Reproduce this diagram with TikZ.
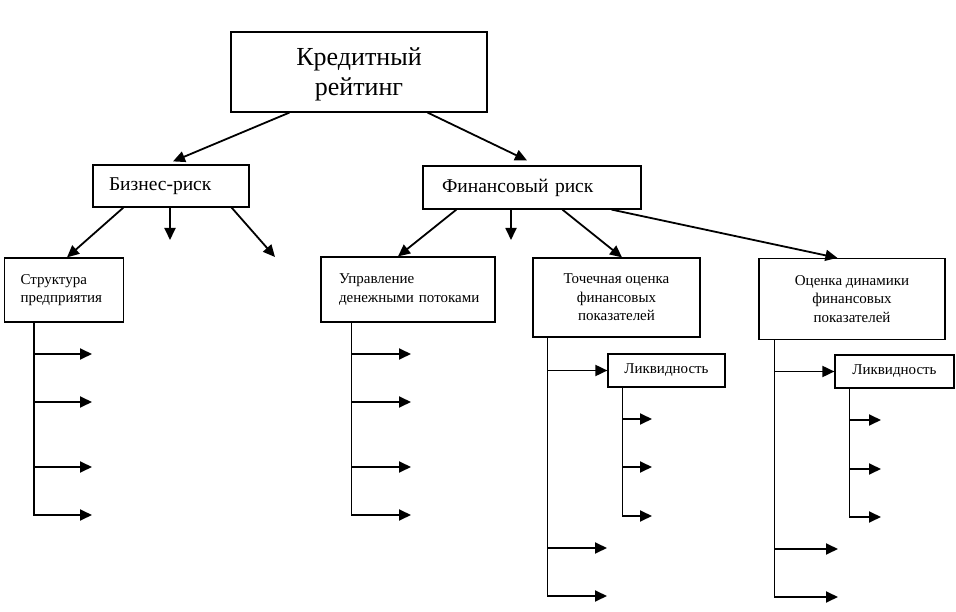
\documentclass[tikz,border=0pt]{standalone}
\usepackage{fontspec}
\setmainfont{Liberation Serif}
\usetikzlibrary{arrows.meta,calc}
\begin{document}
\begin{tikzpicture}[x=1pt,y=-1pt,
  box/.style={draw, line width=1.2pt, inner sep=0pt, align=center},
  small/.style={font=\fontsize{15}{18.5}\selectfont},
  mid/.style={font=\fontsize{19.5}{22}\selectfont},
  arr/.style={line width=1.8pt, -{Triangle[length=12pt,width=11pt]}},
  ln/.style={line width=1.8pt}]
\useasboundingbox (0,0) rectangle (956,612);

% boxes
\node[box, minimum width=256pt, minimum height=80pt, font=\fontsize{26}{30}\selectfont, text depth=0pt] (top) at (359,72) {Кредитный\\рейтинг};
\node[box, mid, minimum width=156pt, minimum height=42pt, text width=124pt, inner xsep=16pt, align=left] (biz) at (171,186) {Бизнес-риск};
\node[box, mid, minimum width=218pt, minimum height=43pt, text width=180pt, inner xsep=19pt, align=left] (fin) at (532,187.5) {Финансовый~риск};
\node[box, small, minimum width=119pt, minimum height=64pt, text width=87pt, inner xsep=16pt, align=left] (str) at (64,290) {Структура\\предприятия};
\node[box, small, minimum width=174pt, minimum height=65pt, text width=138pt, inner xsep=18pt, align=left] (upr) at (408,289.5) {Управление\\денежными~потоками};
\node[box, small, minimum width=167pt, minimum height=79pt] (toch) at (616.5,297.5) {Точечная~оценка\\финансовых\\показателей};
\node[box, small, minimum width=186pt, minimum height=81pt] (ocen) at (852,299) {Оценка~динамики\\финансовых\\показателей};
\node[box, small, minimum width=117pt, minimum height=33pt] (liq1) at (666.5,370.5) {Ликвидность};
\node[box, small, minimum width=119pt, minimum height=33pt] (liq2) at (894.5,371.5) {Ликвидность};

% top level connectors
\draw[arr] ($(top.south west)+(59,0)$) -- ($(biz.north)+(2,-3)$);
\draw[arr] ($(top.south east)+(-60,0)$) -- ($(fin.north)+(-5,-5)$);

% business risk
\coordinate (b2) at (170,240);
\coordinate (b3) at (275,257);
\draw[arr] ($(biz.south west)+(31,0)$) -- ($(str.north)+(3,0)$);
\draw[arr] (biz.south -| b2) -- (b2);
\draw[arr] ($(biz.south east)+(-18,0)$) -- (b3);

% financial risk
\coordinate (f2) at (511,240);
\draw[arr] ($(fin.south west)+(34,0)$) -- ($(upr.north)+(-10,0)$);
\draw[arr] (fin.south -| f2) -- (f2);
\draw[arr] ($(fin.south west)+(140,0)$) -- ($(toch.north)+(5.5,0)$);
\draw[arr] ($(fin.south east)+(-30,0)$) -- ($(ocen.north west)+(79,0)$);

% Структура branches
\coordinate (sv) at ($(str.south west)+(30,0)$);
\coordinate (s1) at (92,354);
\coordinate (s2) at (92,402);
\coordinate (s3) at (92,467);
\coordinate (s4) at (92,515);
\draw[arr] (sv) |- (s4);
\foreach \q in {s1,s2,s3} \draw[arr] (sv |- \q) -- (\q);

% Управление branches
\coordinate (uv) at ($(upr.south west)+(31,0)$);
\coordinate (u1) at (411,354);
\coordinate (u2) at (411,402);
\coordinate (u3) at (411,467);
\coordinate (u4) at (411,515);
\draw[arr] (uv) |- (u4);
\foreach \q in {u1,u2,u3} \draw[arr] (uv |- \q) -- (\q);

% Точечная оценка branches
\coordinate (tv) at ($(toch.south west)+(15,0)$);
\coordinate (t2) at (607,548);
\coordinate (t3) at (607,596);
\draw[arr] (tv) |- (t3);
\draw[arr] (tv |- t2) -- (t2);
\draw[arr] (tv |- liq1.west) -- (liq1.west);

\coordinate (lv) at ($(liq1.south west)+(15,0)$);
\coordinate (l1) at (652,419);
\coordinate (l2) at (652,467);
\coordinate (l3) at (652,516);
\draw[arr] (lv) |- (l3);
\foreach \q in {l1,l2} \draw[arr] (lv |- \q) -- (\q);

% Оценка динамики branches
\coordinate (ov) at ($(ocen.south west)+(16,0)$);
\coordinate (o2) at (838,549);
\coordinate (o3) at (838,597);
\draw[arr] (ov) |- (o3);
\draw[arr] (ov |- o2) -- (o2);
\draw[arr] (ov |- liq2.west) -- (liq2.west);

\coordinate (mv) at ($(liq2.south west)+(15,0)$);
\coordinate (m1) at (881,420);
\coordinate (m2) at (881,469);
\coordinate (m3) at (881,517);
\draw[arr] (mv) |- (m3);
\foreach \q in {m1,m2} \draw[arr] (mv |- \q) -- (\q);
\end{tikzpicture}
\end{document}
